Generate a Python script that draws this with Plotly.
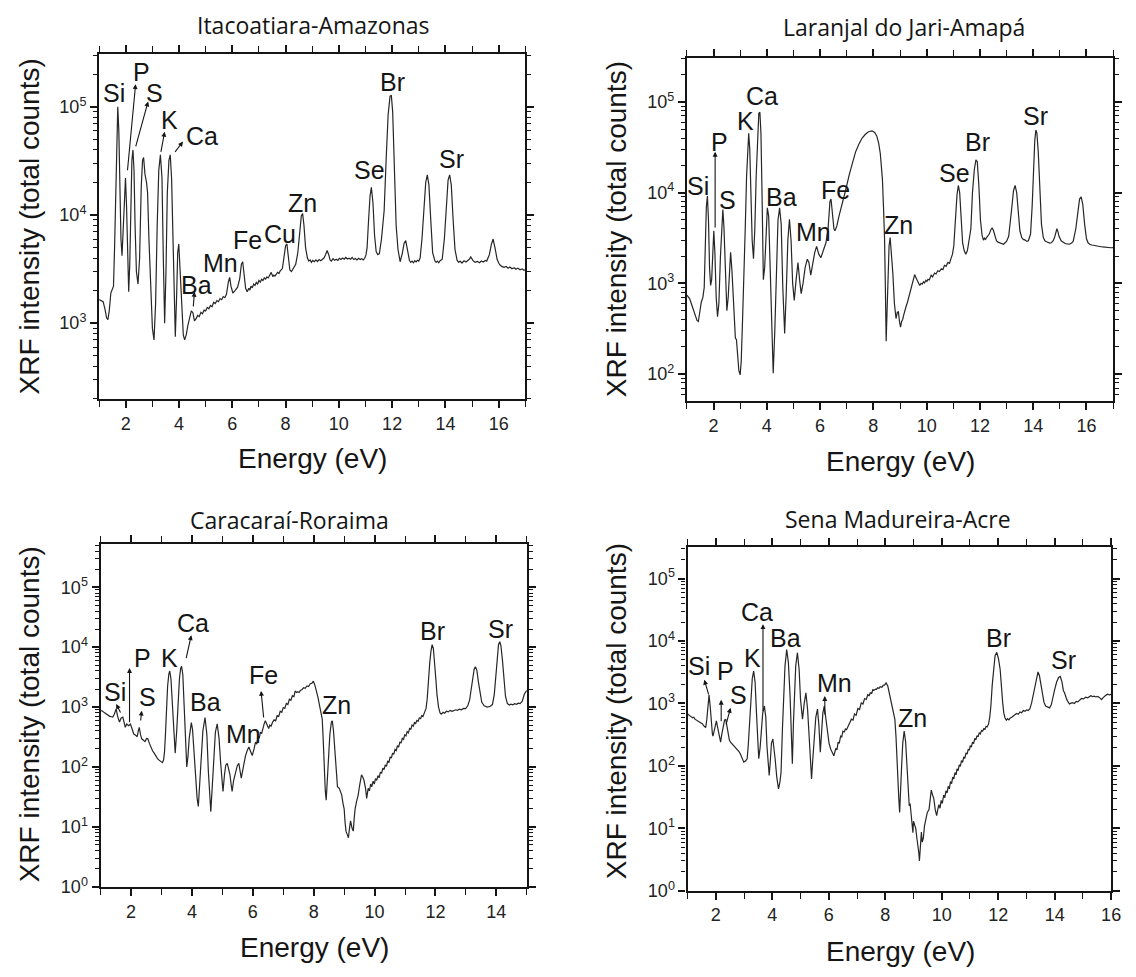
import plotly.graph_objects as go

W, H = 1136, 977

# ---------------- spectra: (energy eV, intensity total counts) ----------------
ita_pts = [(1.00,1650),(1.08,1600),(1.15,1580),(1.22,1350),(1.28,1120),(1.33,1080),(1.38,1300),(1.44,1900),(1.50,2050),(1.54,2200),
    (1.58,5000),(1.62,16000),(1.66,55000),(1.70,100000),(1.74,60000),(1.78,18000),(1.82,6000),(1.86,4200),(1.90,7000),(1.95,17000),
    (1.99,22000),(2.03,12000),(2.07,3500),(2.11,1950),(2.15,3500),(2.19,13000),(2.23,32000),(2.27,40000),(2.31,26000),(2.35,8000),
    (2.40,3000),(2.46,2300),(2.52,4000),(2.58,18000),(2.63,32000),(2.67,34000),(2.72,24000),(2.78,20000),(2.82,16000),(2.87,6000),
    (2.93,2000),(3.00,900),(3.06,700),(3.12,1500),(3.18,8000),(3.24,26000),(3.30,36000),(3.36,22000),(3.41,4000),(3.46,1000),
    (3.51,3000),(3.56,16000),(3.62,32000),(3.67,36000),(3.72,22000),(3.77,5000),(3.82,1200),(3.86,750),(3.91,1800),(3.95,4500),
    (3.99,5400),(4.04,3000),(4.10,1200),(4.16,780),(4.21,700),(4.27,780),(4.33,950),(4.40,1150),(4.46,1300),(4.52,1250),
    (4.58,1050),(4.64,1100),(4.70,1180),(4.76,1150),(4.82,1260),(4.88,1220),(4.94,1320),(5.00,1300),(5.06,1400),(5.12,1360),
    (5.18,1460),(5.24,1420),(5.30,1560),(5.36,1520),(5.42,1620),(5.48,1580),(5.54,1690),(5.60,1650),(5.66,1760),(5.72,1720),
    (5.78,1850),(5.85,2400),(5.90,2650),(5.95,2200),(6.02,1900),(6.10,2000),(6.20,2150),(6.28,2600),(6.34,3500),(6.39,3700),
    (6.44,2800),(6.50,2100),(6.56,1950),(6.62,2100),(6.66,2020),(6.70,2200),(6.75,2120),(6.80,2300),(6.85,2230),(6.90,2380),
    (6.95,2300),(7.00,2480),(7.05,2400),(7.10,2550),(7.15,2480),(7.20,2620),(7.25,2560),(7.30,2680),(7.35,2620),(7.40,2750),
    (7.46,2950),(7.52,2700),(7.56,2780),(7.60,2720),(7.65,2880),(7.70,2950),(7.75,2880),(7.80,3050),(7.88,3200),(7.94,4200),
    (8.00,5200),(8.05,5400),(8.10,4300),(8.16,3100),(8.22,3000),(8.30,3200),(8.38,3500),(8.46,4500),(8.53,7000),(8.59,9800),
    (8.64,10300),(8.69,8000),(8.75,5000),(8.82,4000),(8.87,3750),(8.92,3850),(8.97,3650),(9.02,3800),(9.08,3700),(9.14,3850),
    (9.20,3720),(9.26,3880),(9.32,3780),(9.38,3920),(9.44,4000),(9.50,4300),(9.56,4700),(9.62,4300),(9.67,3850),(9.72,3750),
    (9.78,3950),(9.84,3820),(9.90,3900),(9.96,3800),(10.02,3980),(10.08,3880),(10.14,4000),(10.20,3900),(10.26,4050),(10.32,3920),
    (10.38,3980),(10.44,3900),(10.50,4050),(10.56,3880),(10.62,3960),(10.68,3850),(10.74,3980),(10.80,3880),(10.86,3950),(10.92,3850),
    (10.97,3980),(11.02,4300),(11.06,5000),(11.11,8500),(11.17,15000),(11.22,18000),(11.28,13000),(11.34,6500),(11.40,4600),(11.46,4300),
    (11.52,4400),(11.60,6000),(11.70,11000),(11.78,35000),(11.85,85000),(11.92,125000),(11.97,128000),(12.02,90000),(12.08,30000),(12.15,8000),
    (12.22,4800),(12.30,3700),(12.38,4400),(12.45,5500),(12.51,5800),(12.57,4800),(12.65,3800),(12.70,3650),(12.75,3750),(12.80,3620),
    (12.85,3780),(12.90,3680),(12.95,3820),(13.00,3750),(13.05,4000),(13.12,6000),(13.19,12000),(13.26,20000),(13.32,23500),(13.38,19000),
    (13.45,9000),(13.52,4500),(13.60,3800),(13.65,3650),(13.70,3750),(13.75,3620),(13.80,3780),(13.88,3900),(13.96,6000),(14.03,13000),
    (14.10,21000),(14.16,23500),(14.22,19000),(14.29,9000),(14.36,4800),(14.44,3800),(14.50,3650),(14.55,3750),(14.62,3600),(14.70,3780),
    (14.77,3680),(14.85,3820),(14.90,3900),(14.95,4100),(15.00,3900),(15.05,3750),(15.12,3650),(15.20,3720),(15.28,3620),(15.35,3760),
    (15.42,3680),(15.50,3800),(15.55,3750),(15.65,4300),(15.72,5300),(15.79,6000),(15.86,5000),(15.94,3900),(16.00,3600),(16.05,3450),
    (16.12,3350),(16.20,3280),(16.28,3350),(16.35,3220),(16.42,3300),(16.50,3180),(16.58,3250),(16.65,3150),(16.72,3230),(16.80,3120),
    (16.88,3180),(16.95,3080),(17.00,3120)]

lar_pts = [(1.00,740),(1.10,680),(1.20,560),(1.30,460),(1.38,390),(1.43,380),(1.48,470),(1.54,620),(1.60,700),(1.65,900),
    (1.69,2500),(1.73,7000),(1.77,9200),(1.81,5000),(1.85,1500),(1.89,950),(1.93,1100),(1.97,2500),(2.01,3800),(2.05,2200),
    (2.10,700),(2.15,430),(2.20,600),(2.26,2000),(2.31,5000),(2.35,6500),(2.39,4200),(2.44,1300),(2.50,500),(2.55,700),
    (2.60,1700),(2.64,2200),(2.69,1400),(2.74,750),(2.78,330),(2.82,250),(2.86,240),(2.90,180),(2.95,110),(3.00,98),
    (3.04,140),(3.09,400),(3.14,1000),(3.19,4000),(3.24,15000),(3.28,35000),(3.32,45000),(3.36,30000),(3.40,10000),(3.45,3000),
    (3.50,1870),(3.55,4000),(3.60,15000),(3.65,45000),(3.70,75000),(3.74,77000),(3.78,45000),(3.82,10000),(3.87,1100),(3.92,1500),
    (3.97,4000),(4.02,6800),(4.07,5500),(4.12,1500),(4.18,300),(4.24,102),(4.30,300),(4.36,1500),(4.42,5000),(4.48,6800),
    (4.54,4500),(4.60,900),(4.67,280),(4.73,800),(4.79,3000),(4.85,5100),(4.91,3000),(4.97,1000),(5.03,650),(5.10,1100),
    (5.17,1700),(5.23,1100),(5.29,770),(5.36,1000),(5.44,1500),(5.52,1850),(5.58,1700),(5.65,1230),(5.72,1600),(5.80,2200),
    (5.87,2560),(5.95,2100),(6.03,1920),(6.12,2300),(6.22,2800),(6.30,4000),(6.37,8000),(6.41,8500),(6.46,6000),(6.52,4000),
    (6.56,3800),(6.63,4300),(6.71,5500),(6.85,7800),(6.96,10700),(7.10,16000),(7.21,21000),(7.33,28000),(7.45,34000),(7.58,40000),
    (7.70,44000),(7.82,47000),(7.95,48000),(8.05,46000),(8.13,42000),(8.20,35000),(8.26,27000),(8.31,19000),(8.34,14000),(8.38,7000),
    (8.42,3100),(8.45,900),(8.48,230),(8.51,450),(8.55,1200),(8.59,2600),(8.63,3200),(8.68,2200),(8.73,1300),(8.79,600),
    (8.85,410),(8.90,480),(8.94,485),(8.98,380),(9.02,330),(9.06,380),(9.10,400),(9.14,450),(9.18,485),(9.23,560),
    (9.28,620),(9.33,700),(9.37,800),(9.42,880),(9.46,1000),(9.51,1100),(9.55,1250),(9.60,1150),(9.64,1080),(9.68,1000),
    (9.74,950),(9.79,1000),(9.83,980),(9.88,1040),(9.92,1010),(9.97,1080),(10.01,1050),(10.05,1110),(10.10,1090),(10.17,1230),
    (10.22,1180),(10.30,1300),(10.35,1270),(10.42,1380),(10.48,1350),(10.55,1450),(10.61,1420),(10.67,1580),(10.73,1540),(10.80,1700),
    (10.86,1660),(10.91,1860),(10.97,2100),(11.02,2600),(11.08,5000),(11.14,9500),(11.19,12000),(11.24,10000),(11.30,5000),(11.35,2800),
    (11.41,2300),(11.47,2100),(11.53,2300),(11.60,3000),(11.66,4000),(11.72,10000),(11.79,18000),(11.85,23000),(11.90,22000),(11.96,12000),
    (12.02,5000),(12.08,3400),(12.13,3000),(12.17,3150),(12.21,3050),(12.25,3200),(12.30,3350),(12.35,3500),(12.41,3900),(12.46,4100),
    (12.51,3800),(12.55,3500),(12.62,2950),(12.68,2850),(12.75,2800),(12.82,2720),(12.89,2700),(12.95,2820),(13.00,2900),(13.08,3300),
    (13.14,4500),(13.20,7000),(13.26,10500),(13.32,12000),(13.38,10000),(13.44,6000),(13.50,3800),(13.57,3200),(13.63,3050),(13.70,3000),
    (13.76,2900),(13.82,2950),(13.90,3500),(13.96,7000),(14.02,20000),(14.06,38000),(14.10,49000),(14.14,45000),(14.19,28000),(14.25,10000),
    (14.31,4500),(14.38,3200),(14.44,2950),(14.50,2880),(14.55,2850),(14.62,2780),(14.68,2800),(14.75,2950),(14.80,3200),(14.85,3700),
    (14.89,4000),(14.93,3700),(14.97,3300),(15.05,2950),(15.12,2850),(15.20,2750),(15.28,2720),(15.36,2700),(15.44,2780),(15.50,2900),
    (15.60,4000),(15.68,6500),(15.74,8500),(15.80,9000),(15.86,7500),(15.93,4500),(16.00,3100),(16.06,2800),(16.12,2700),(16.20,2650),
    (16.30,2600),(16.40,2580),(16.50,2550),(16.60,2520),(16.70,2500),(16.78,2460),(16.85,2450),(16.92,2470),(17.00,2480)]

car_pts = [(1.00,870),(1.06,860),(1.13,800),(1.19,760),(1.24,720),(1.30,700),(1.36,690),(1.40,680),(1.45,760),(1.51,930),
    (1.56,700),(1.62,560),(1.67,650),(1.73,680),(1.77,560),(1.81,460),(1.86,520),(1.92,490),(1.98,520),(2.03,420),
    (2.09,355),(2.15,340),(2.20,320),(2.24,400),(2.27,460),(2.31,350),(2.35,295),(2.41,280),(2.46,265),(2.51,300),
    (2.55,295),(2.60,250),(2.66,205),(2.71,185),(2.76,170),(2.82,150),(2.87,138),(2.92,130),(2.98,123),(3.03,118),
    (3.07,132),(3.10,180),(3.13,350),(3.16,900),(3.20,2200),(3.24,3500),(3.27,4000),(3.31,3000),(3.35,1300),(3.39,450),
    (3.45,170),(3.50,400),(3.54,1100),(3.59,3000),(3.63,4400),(3.66,4800),(3.70,3500),(3.74,1400),(3.79,300),(3.83,100),
    (3.87,150),(3.91,300),(3.95,480),(3.98,550),(4.02,420),(4.07,155),(4.12,60),(4.17,30),(4.21,22),(4.25,45),
    (4.30,150),(4.36,400),(4.43,670),(4.49,350),(4.54,83),(4.58,28),(4.62,18),(4.66,40),(4.71,130),(4.77,380),
    (4.83,525),(4.89,300),(4.94,123),(4.98,60),(5.02,39),(5.07,75),(5.11,107),(5.16,115),(5.21,95),(5.25,74),
    (5.29,50),(5.32,39),(5.37,60),(5.43,83),(5.49,105),(5.54,115),(5.58,85),(5.62,65),(5.68,95),(5.76,155),
    (5.82,190),(5.87,215),(5.93,180),(5.98,155),(6.04,200),(6.09,260),(6.13,240),(6.17,320),(6.21,300),(6.25,380),
    (6.29,360),(6.33,470),(6.37,520),(6.41,590),(6.47,480),(6.52,440),(6.56,500),(6.60,480),(6.65,560),(6.70,610),
    (6.75,590),(6.80,720),(6.85,700),(6.90,850),(6.95,820),(7.00,980),(7.05,950),(7.10,1150),(7.15,1100),(7.20,1350),
    (7.25,1300),(7.30,1550),(7.35,1500),(7.39,1850),(7.44,1750),(7.48,1800),(7.52,1750),(7.56,1900),(7.61,1950),(7.67,2100),
    (7.72,2050),(7.78,2250),(7.83,2200),(7.89,2450),(7.94,2500),(7.99,2700),(8.04,2300),(8.08,1950),(8.14,1450),(8.21,950),
    (8.28,630),(8.31,300),(8.34,93),(8.38,40),(8.41,28),(8.45,60),(8.48,155),(8.53,350),(8.58,560),(8.61,590),
    (8.65,400),(8.70,155),(8.74,70),(8.78,47),(8.84,44),(8.88,38),(8.92,34),(8.96,25),(9.00,20),(9.03,12),
    (9.06,8.5),(9.10,7.5),(9.14,6.6),(9.17,9),(9.21,12.6),(9.26,9.5),(9.30,8.5),(9.33,14),(9.36,20),(9.41,27),
    (9.46,34),(9.51,50),(9.57,74),(9.61,68),(9.65,60),(9.70,45),(9.74,30),(9.77,38),(9.79,44),(9.83,40),
    (9.87,52),(9.91,47),(9.95,58),(9.99,52),(10.03,64),(10.07,60),(10.11,72),(10.15,66),(10.19,82),(10.23,78),
    (10.27,96),(10.31,90),(10.35,108),(10.39,102),(10.43,126),(10.47,118),(10.51,148),(10.55,140),(10.59,170),(10.63,162),
    (10.67,196),(10.71,188),(10.75,226),(10.79,214),(10.83,262),(10.87,250),(10.91,300),(10.95,288),(10.99,345),(11.03,330),
    (11.07,390),(11.11,372),(11.15,440),(11.19,425),(11.23,500),(11.27,480),(11.31,550),(11.35,530),(11.39,600),(11.43,580),
    (11.47,660),(11.51,640),(11.55,720),(11.59,700),(11.64,800),(11.69,950),(11.73,1400),(11.77,3000),(11.81,5400),(11.85,8500),
    (11.89,11000),(11.93,9500),(11.97,6000),(12.01,3000),(12.05,1600),(12.10,1000),(12.15,800),(12.19,760),(12.25,820),(12.30,790),
    (12.36,850),(12.42,830),(12.48,880),(12.54,850),(12.60,870),(12.66,900),(12.72,880),(12.78,920),(12.85,900),(12.92,950),
    (12.99,940),(13.06,1050),(13.12,1300),(13.17,2000),(13.22,3200),(13.27,4300),(13.31,4700),(13.36,4100),(13.41,2600),(13.46,1700),
    (13.52,1200),(13.60,1050),(13.70,1000),(13.80,1030),(13.87,1100),(13.93,1600),(13.98,3500),(14.03,7500),(14.07,11000),(14.11,12300),
    (14.15,10500),(14.20,6000),(14.25,2800),(14.30,1500),(14.36,1150),(14.42,1080),(14.48,1120),(14.54,1090),(14.60,1140),(14.66,1110),
    (14.72,1160),(14.78,1140),(14.85,1250),(14.92,1650),(15.00,1900)]

sen_pts = [(1.00,680),(1.05,660),(1.09,640),(1.13,610),(1.18,590),(1.22,600),(1.26,560),(1.30,545),(1.35,525),(1.40,510),
    (1.44,490),(1.49,480),(1.53,470),(1.57,440),(1.60,430),(1.64,410),(1.68,550),(1.72,950),(1.76,1380),(1.80,900),
    (1.84,470),(1.88,320),(1.90,300),(1.94,380),(1.98,470),(2.02,525),(2.06,420),(2.10,330),(2.14,260),(2.17,240),
    (2.21,320),(2.26,450),(2.31,540),(2.35,560),(2.39,420),(2.44,300),(2.48,260),(2.52,240),(2.58,225),(2.64,210),
    (2.70,200),(2.76,186),(2.82,170),(2.87,155),(2.93,130),(2.99,115),(3.05,120),(3.11,130),(3.15,220),(3.19,400),
    (3.24,1200),(3.29,2500),(3.34,3300),(3.39,2200),(3.44,700),(3.48,250),(3.52,130),(3.57,200),(3.61,340),(3.66,700),
    (3.72,910),(3.77,600),(3.81,210),(3.85,100),(3.89,70),(3.93,120),(3.97,230),(4.02,270),(4.06,200),(4.10,130),
    (4.16,65),(4.22,43),(4.27,55),(4.31,80),(4.36,400),(4.40,1300),(4.45,4000),(4.51,7300),(4.57,4500),(4.63,1300),
    (4.67,400),(4.71,108),(4.75,500),(4.78,1300),(4.83,4000),(4.89,6500),(4.95,3500),(5.00,1150),(5.04,650),(5.07,560),
    (5.13,1000),(5.19,1480),(5.25,800),(5.30,270),(5.35,110),(5.39,62),(5.43,120),(5.48,270),(5.54,600),(5.60,810),
    (5.65,450),(5.70,166),(5.74,300),(5.79,700),(5.84,910),(5.89,600),(5.95,340),(6.01,230),(6.07,185),(6.13,160),
    (6.18,145),(6.22,170),(6.25,190),(6.29,180),(6.33,240),(6.37,230),(6.42,300),(6.46,290),(6.50,360),(6.55,350),
    (6.59,390),(6.63,380),(6.68,420),(6.74,480),(6.80,560),(6.86,540),(6.91,680),(6.97,650),(7.03,830),(7.09,800),
    (7.15,1020),(7.21,980),(7.27,1200),(7.33,1160),(7.38,1380),(7.43,1340),(7.47,1480),(7.52,1450),(7.56,1660),(7.60,1620),
    (7.65,1700),(7.69,1680),(7.73,1780),(7.78,1750),(7.82,1850),(7.88,1820),(7.93,1950),(7.98,1980),(8.03,2130),(8.09,1900),
    (8.14,1480),(8.20,1050),(8.26,810),(8.30,650),(8.34,560),(8.38,300),(8.41,120),(8.44,80),(8.48,30),(8.51,18),
    (8.54,50),(8.58,100),(8.62,230),(8.67,360),(8.72,250),(8.77,115),(8.81,45),(8.85,23),(8.88,25),(8.90,20),
    (8.94,16),(8.98,8.5),(9.00,13),(9.04,11),(9.08,10),(9.12,7),(9.16,5.4),(9.19,4),(9.21,3),(9.24,6),
    (9.28,8.7),(9.31,6),(9.35,7),(9.39,11),(9.43,14),(9.49,18),(9.55,20),(9.59,30),(9.63,41),(9.67,35),
    (9.72,30),(9.77,20),(9.82,16),(9.86,20),(9.90,24),(9.94,21),(9.98,28),(10.02,25),(10.07,34),(10.11,31),
    (10.15,40),(10.19,37),(10.23,47),(10.27,43),(10.31,56),(10.35,52),(10.39,66),(10.43,62),(10.47,78),(10.51,72),
    (10.54,90),(10.58,84),(10.62,104),(10.66,98),(10.70,122),(10.74,114),(10.78,140),(10.82,132),(10.86,162),(10.90,154),
    (10.94,186),(10.98,178),(11.01,212),(11.05,200),(11.09,240),(11.13,228),(11.17,275),(11.21,262),(11.25,305),(11.29,292),
    (11.33,340),(11.37,325),(11.41,370),(11.45,360),(11.49,395),(11.53,385),(11.57,430),(11.61,420),(11.66,470),(11.70,600),
    (11.74,900),(11.79,2000),(11.83,3500),(11.89,5800),(11.95,6600),(12.01,5200),(12.07,3500),(12.11,1800),(12.16,1020),(12.20,700),
    (12.24,590),(12.29,540),(12.33,570),(12.38,545),(12.42,580),(12.48,600),(12.54,630),(12.60,650),(12.65,690),(12.71,670),
    (12.77,730),(12.83,710),(12.89,770),(12.95,750),(13.01,790),(13.06,770),(13.12,820),(13.18,1000),(13.24,1350),(13.30,2000),
    (13.36,2800),(13.41,3200),(13.46,2800),(13.51,2000),(13.56,1480),(13.62,1050),(13.68,910),(13.75,880),(13.82,850),(13.88,950),
    (13.94,1300),(14.00,1660),(14.07,2200),(14.14,2600),(14.20,2700),(14.26,2200),(14.31,1600),(14.35,1480),(14.43,1150),(14.52,980),
    (14.58,1010),(14.64,1030),(14.70,1000),(14.76,1080),(14.82,1060),(14.88,1130),(14.95,1200),(15.02,1180),(15.10,1260),(15.17,1230),
    (15.23,1300),(15.28,1330),(15.34,1290),(15.40,1310),(15.45,1270),(15.52,1300),(15.58,1250),(15.62,1200),(15.66,1150),(15.71,1230),
    (15.76,1310),(15.82,1360),(15.88,1410),(15.94,1370),(16.00,1400)]

# ---------------- element labels: names, energy, log10(counts) ----------------
ita_lab = (["Si","P","S","K","Ca","Ba","Mn","Fe","Cu","Zn","Se","Br","Sr"],
           [1.56,2.59,3.08,3.65,4.86,4.65,5.56,6.58,7.80,8.64,11.14,12.01,14.22],
           [5.13,5.32,5.13,4.88,4.73,3.35,3.56,3.77,3.82,4.11,4.42,5.23,4.52])
lar_lab = (["Si","P","S","K","Ca","Ba","Mn","Fe","Zn","Se","Br","Sr"],
           [1.40,2.24,2.51,3.19,3.81,4.55,5.75,6.59,8.94,11.04,11.90,14.10],
           [4.07,4.56,3.92,4.79,5.06,3.95,3.57,4.03,3.64,4.22,4.56,4.85])
car_lab = (["Si","P","S","K","Ca","Ba","Mn","Fe","Zn","Br","Sr"],
           [1.46,2.38,2.53,3.25,4.02,4.45,5.71,6.36,8.76,11.91,14.15],
           [3.25,3.82,3.16,3.82,4.40,3.08,2.555,3.54,3.04,4.27,4.31])
sen_lab = (["Si","P","S","K","Ca","Ba","Mn","Zn","Br","Sr"],
           [1.41,2.35,2.81,3.31,3.46,4.48,6.21,8.96,12.01,14.32],
           [3.595,3.52,3.14,3.73,4.47,4.05,3.32,2.76,4.05,3.70])

# arrows: head x, head log10 y, tail x, tail log10 y
ita_arr = [(2.37,5.21,2.06,4.40),(2.84,5.05,2.36,4.62),(3.46,4.77,3.31,4.57),(4.15,4.68,3.81,4.57),(4.58,3.29,4.53,3.14)]
lar_arr = [(2.06,4.45,2.06,3.60)]
car_arr = [(1.51,3.05,1.68,2.885),(1.95,3.65,1.95,2.72),(2.35,2.94,2.31,2.75),(3.98,4.20,3.80,3.79),(6.27,3.27,6.36,2.80)]
sen_arr = [(1.59,3.38,1.76,3.12),(2.19,3.06,2.19,2.69),(2.52,2.93,2.35,2.64),(3.67,4.27,3.67,2.85),(5.86,3.12,5.86,2.80)]

titles = ["Itacoatiara-Amazonas", "Laranjal do Jari-Amapá", "Caracaraí-Roraima", "Sena Madureira-Acre"]

# ---------------- layout geometry (pixels) ----------------
frames = [(100, 530, 55, 403), (693, 1123, 59, 405), (101.5, 531.5, 550, 896), (693.7, 1121, 553, 900)]
xranges = [[1, 17], [1, 17], [1, 15], [1, 16]]
yranges = [[2.30, 5.485], [1.705, 5.48], [0, 5.715], [0, 5.5]]
title_pos = [(316, 25), (912, 27), (292, 525), (906, 524)]
xtitle_pos = [(315, 463), (908, 466), (317, 957), (908, 961)]
ytitle_pos = [(30, 229), (622, 232), (30, 722), (622, 719)]

spectra = [ita_pts, lar_pts, car_pts, sen_pts]
labels = [ita_lab, lar_lab, car_lab, sen_lab]
arrows = [ita_arr, lar_arr, car_arr, sen_arr]

AX_FONT = "Liberation Sans, Arial, sans-serif"
INK = "#151515"

fig = go.Figure()
layout = dict(width=W, height=H, margin=dict(l=0, r=0, t=0, b=0),
              paper_bgcolor="white", plot_bgcolor="white", showlegend=False)
annotations = []

decades = list(range(0, 7))
minor_vals = [m * 10 ** k for k in range(-1, 7) for m in range(2, 10)]

for i in range(4):
    n = i + 1
    xs = "x" if n == 1 else f"x{n}"
    ys = "y" if n == 1 else f"y{n}"
    l, r, t, b = frames[i]
    xa = dict(domain=[l / W, r / W], range=xranges[i], anchor=ys,
              tickmode="linear", tick0=0, dtick=2,
              ticks="outside", ticklen=7, tickwidth=1.6, tickcolor=INK,
              minor=dict(tickmode="linear", tick0=0, dtick=1, ticks="outside", ticklen=6, tickwidth=1.4, tickcolor=INK),
              showline=True, linewidth=2.2, linecolor=INK, mirror="allticks",
              showgrid=False, zeroline=False,
              tickfont=dict(family=AX_FONT, size=18, color="#222"))
    ya = dict(domain=[1 - b / H, 1 - t / H], type="log", range=yranges[i], anchor=xs,
              tickmode="array", tickvals=[10 ** d for d in decades],
              ticktext=[f"10<sup>{d}</sup>" for d in decades],
              ticks="outside", ticklen=7, tickwidth=1.6, tickcolor=INK,
              minor=dict(tickmode="array", tickvals=minor_vals, ticks="outside", ticklen=4, tickwidth=1, tickcolor=INK),
              showline=True, linewidth=2.2, linecolor=INK, mirror="allticks",
              showgrid=False, zeroline=False,
              tickfont=dict(family=AX_FONT, size=18, color="#222"))
    layout["xaxis" if n == 1 else f"xaxis{n}"] = xa
    layout["yaxis" if n == 1 else f"yaxis{n}"] = ya

    sx = [p[0] for p in spectra[i]]
    sy = [p[1] for p in spectra[i]]
    fig.add_trace(go.Scatter(x=sx, y=sy, mode="lines", xaxis=xs, yaxis=ys,
                             line=dict(color="#262626", width=1.2), hoverinfo="skip"))

    names, lx, ly = labels[i]
    for nm, px, py in zip(names, lx, ly):
        annotations.append(dict(x=px, y=py, xref=xs, yref=ys, text=nm, showarrow=False,
                                font=dict(family=AX_FONT, size=25, color=INK),
                                xanchor="center", yanchor="middle"))
    for hx, hy, tx, ty in arrows[i]:
        annotations.append(dict(x=hx, y=hy, xref=xs, yref=ys, ax=tx, ay=ty, axref=xs, ayref=ys,
                                text="", showarrow=True, arrowhead=2, arrowsize=0.9,
                                arrowwidth=1.1, arrowcolor=INK, standoff=0, startstandoff=0))

    cx, cy = title_pos[i]
    annotations.append(dict(x=cx / W, y=1 - cy / H, xref="paper", yref="paper", text=titles[i],
                            showarrow=False, xanchor="center", yanchor="middle",
                            font=dict(family="Open Sans, Noto Sans, sans-serif", size=23, color=INK)))
    cx, cy = xtitle_pos[i]
    annotations.append(dict(x=cx / W, y=1 - cy / H, xref="paper", yref="paper", text="Energy (eV)",
                            showarrow=False, xanchor="center", yanchor="middle",
                            font=dict(family=AX_FONT, size=28, color=INK)))
    cx, cy = ytitle_pos[i]
    annotations.append(dict(x=cx / W, y=1 - cy / H, xref="paper", yref="paper",
                            text="XRF intensity (total counts)", textangle=-90,
                            showarrow=False, xanchor="center", yanchor="middle",
                            font=dict(family=AX_FONT, size=28, color=INK)))

layout["annotations"] = annotations
fig.update_layout(**layout)
fig.write_html("out.html")
